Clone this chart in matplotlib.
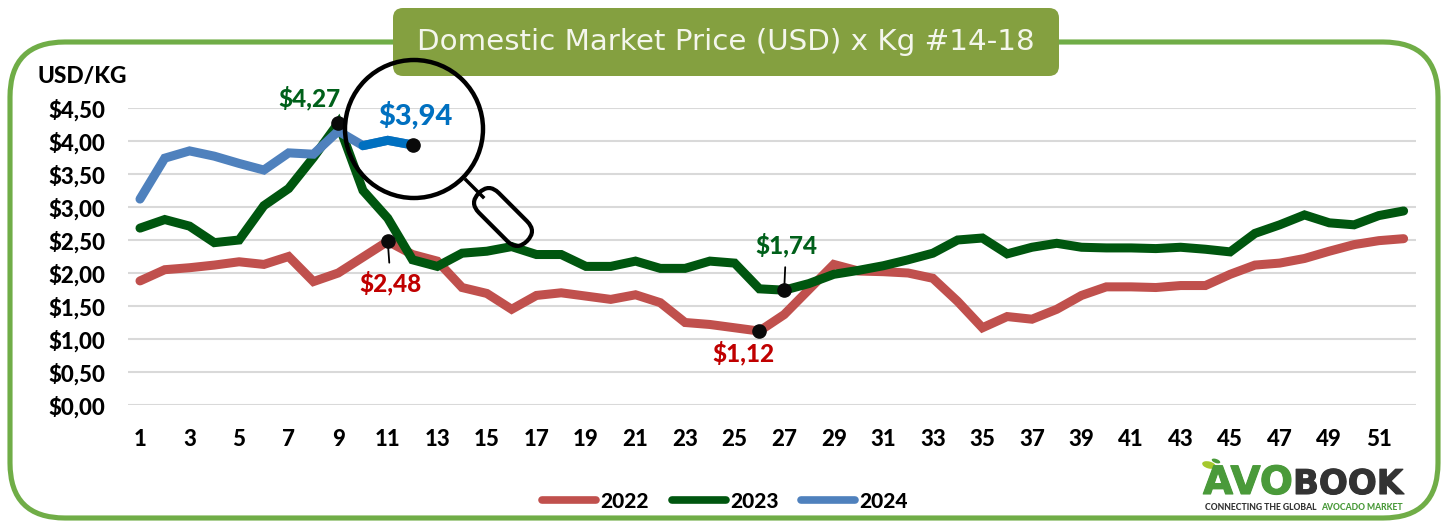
import matplotlib
matplotlib.use("Agg")
import matplotlib.pyplot as plt
import matplotlib.patheffects as pe
from matplotlib.patches import FancyBboxPatch, Circle, Ellipse
from matplotlib.transforms import Affine2D

weeks = list(range(1, 53))
y2022 = [1.88,2.05,2.08,2.12,2.17,2.13,2.25,1.87,2.00,2.24,2.48,2.28,2.18,1.78,1.69,1.45,1.66,1.70,1.65,1.60,
         1.67,1.55,1.25,1.22,1.17,1.12,1.37,1.75,2.13,2.03,2.02,2.00,1.92,1.57,1.17,1.34,1.30,1.45,1.66,1.79,
         1.79,1.78,1.81,1.81,1.98,2.12,2.15,2.22,2.33,2.43,2.49,2.52]
y2023 = [2.68,2.81,2.71,2.46,2.50,3.02,3.28,3.75,4.27,3.25,2.83,2.20,2.10,2.30,2.33,2.40,2.28,2.28,2.10,2.10,
         2.18,2.07,2.07,2.18,2.15,1.76,1.74,1.84,1.98,2.04,2.11,2.20,2.30,2.50,2.53,2.29,2.39,2.45,2.39,2.38,
         2.38,2.37,2.39,2.36,2.32,2.60,2.73,2.88,2.76,2.73,2.87,2.94]
y2024 = [3.12,3.74,3.85,3.77,3.66,3.56,3.82,3.80,4.15,3.93,4.01,3.94]
yticks = [0,0.5,1,1.5,2,2.5,3,3.5,4,4.5]
ytick_labels = ["$0,00","$0,50","$1,00","$1,50","$2,00","$2,50","$3,00","$3,50","$4,00","$4,50"]
xticks = list(range(1, 52, 2))
title = "Domestic Market Price (USD) x Kg #14-18"

W, H = 1442, 522
FONT = "Lato"
BOLD = 900
plt.rcParams["font.family"] = [FONT, "DejaVu Sans"]
plt.rcParams["text.parse_math"] = False
fig = plt.figure(figsize=(W/100, H/100), dpi=100, facecolor="white")

def px_axes(z):
    a = fig.add_axes([0,0,1,1], zorder=z)
    a.set_xlim(0,W); a.set_ylim(H,0); a.axis("off"); a.patch.set_alpha(0)
    return a

bg = px_axes(0)
bg.add_patch(FancyBboxPatch((10,42),1428,476,boxstyle="round,pad=0,rounding_size=55",
                            fc="white",ec="#70AD47",lw=3.7))
bg.add_patch(FancyBboxPatch((393,8),666,68,boxstyle="round,pad=0,rounding_size=10",fc="#84A040",ec="none"))
bg.text(726,42,title,color="#F4F6EC",fontsize=21.2,ha="center",va="center",family="DejaVu Sans")

L,R,T,B = 127.6,1416,108,405
ax = fig.add_axes([L/W,1-B/H,(R-L)/W,(B-T)/H],zorder=1)
ax.patch.set_alpha(0)
ax.set_xlim(0.5,52.5); ax.set_ylim(0,4.5)
for s in ax.spines.values(): s.set_visible(False)
ax.set_yticks(yticks); ax.set_yticklabels(ytick_labels)
ax.set_xticks(xticks); ax.set_xticklabels([str(x) for x in xticks])
ax.tick_params(length=0,labelsize=16,labelcolor="black")
ax.tick_params(axis="x",pad=17)
ax.tick_params(axis="y",pad=16)
for t in ax.get_xticklabels()+ax.get_yticklabels(): t.set_fontweight(BOLD)
ax.grid(axis="y",color="#D9D9D9",lw=1.5)
ax.set_axisbelow(True)
kw = dict(lw=6.5,solid_capstyle="round",solid_joinstyle="miter",clip_on=False)
l22, = ax.plot(weeks,y2022,color="#C0504D",label="2022",**kw)
l23, = ax.plot(weeks,y2023,color="#00560F",label="2023",**kw)
l24, = ax.plot(weeks[:len(y2024)],y2024,color="#4F81BD",label="2024",**kw)
ax.plot(weeks[9:len(y2024)],y2024[9:],color="#0070C0",**kw)

leg = ax.legend(handles=[l22,l23,l24],loc="center",bbox_to_anchor=(725/W,1-501/H),
                bbox_transform=fig.transFigure,ncol=3,frameon=False,handlelength=2.6,
                handletextpad=0.2,columnspacing=1.08,prop={"family":FONT,"weight":BOLD,"size":15})
for h in leg.get_lines(): h.set_linewidth(5.5)

# highlighted points, leader lines and value labels
pts = [(9,y2023[8]),(11,y2022[10]),(12,y2024[11]),(26,y2022[25]),(27,y2023[26])]
ax.plot(*zip(*pts),"o",color="#0A0A0A",ms=9.5,clip_on=False,zorder=6)
ann = dict(ha="center",va="center",fontweight=BOLD,annotation_clip=False,textcoords="offset pixels")
ax.annotate("$4,27",(9,y2023[8]),xytext=(-29,25),color="#00601A",fontsize=17.5,**ann)
ax.annotate("$3,94",(12,y2024[11]),xytext=(3,29),color="#0070C0",fontsize=21,**ann)
ax.annotate("$2,48",(11,y2022[10]),xytext=(3,-42),color="#C00000",fontsize=17.5,
            arrowprops=dict(arrowstyle="-",color="black",lw=1.3,shrinkA=4,shrinkB=0),**ann)
ax.annotate("$1,74",(27,y2023[26]),xytext=(2,45),color="#00601A",fontsize=17.5,
            arrowprops=dict(arrowstyle="-",color="black",lw=1.3,shrinkA=5,shrinkB=0),**ann)
ax.annotate("$1,12",(26,y2022[25]),xytext=(-16,-22),color="#C00000",fontsize=17.5,**ann)

fg = px_axes(2)
fg.text(82,76,"USD/KG",fontsize=16.3,fontweight=BOLD,ha="center",va="center",color="black")
# magnifier
fg.add_patch(Circle((414,129),69,fc="none",ec="black",lw=3.2))
fg.plot([466,483],[180,197],color="black",lw=2.5)
rot = Affine2D().rotate_deg_around(503,217,45)+fg.transData
fg.add_patch(FancyBboxPatch((503-34,217-14),68,28,boxstyle="round,pad=0,rounding_size=14",
                            fc="none",ec="black",lw=3,transform=rot))
# logo
fg.text(1203,494,"AVO",color="#4A9A3A",fontsize=28,fontweight="bold",family="DejaVu Sans",ha="left",va="baseline",
        path_effects=[pe.withStroke(linewidth=0.8,foreground="#4A9A3A")])
fg.text(1293,494,"BOOK",color="#333333",fontsize=24.5,fontweight="bold",family="DejaVu Sans",ha="left",va="baseline",
        path_effects=[pe.withStroke(linewidth=0.8,foreground="#333333")])
fg.text(1205,508,"CONNECTING THE GLOBAL",color="#333333",fontsize=6.2,fontweight=BOLD,ha="left",va="center")
fg.text(1321,508,"AVOCADO MARKET",color="#4A9A3A",fontsize=6.2,fontweight=BOLD,ha="left",va="center")
fg.add_patch(Ellipse((1209,465),14,7,angle=15,fc="#A5C82D",ec="none"))
fg.add_patch(Ellipse((1216,461),4,9,angle=-70,fc="#4A9A3A",ec="none"))

fig.savefig("out.png",dpi=100)
